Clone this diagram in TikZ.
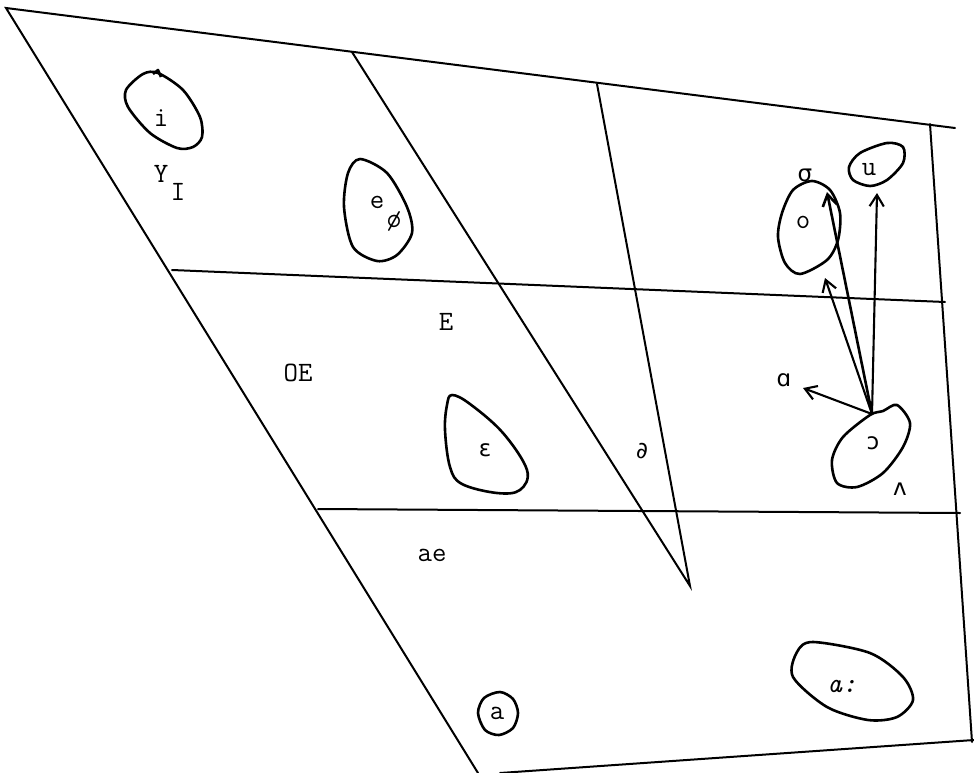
\documentclass[tikz,border=0pt]{standalone}
\usepackage{fontspec}
\usepackage{tikz}
\usetikzlibrary{arrows.meta, positioning}
\newfontfamily\ipafont{DejaVu Sans}

\begin{document}
\begin{tikzpicture}[
        x=1pt, y=-1pt,
        chartline/.style={line width=2pt, line cap=round},
        bubble/.style={line width=2.6pt, line join=round},
        vowel/.style={font=\fontsize{28}{28}\selectfont\ttfamily, inner sep=0pt},
        ipavowel/.style={font=\fontsize{23}{23}\selectfont\ipafont, inner sep=0pt},
        shiftarrow/.style={-{Straight Barb[length=4mm, width=5mm]}, line width=2.1pt}
    ]
        \useasboundingbox (0,0) rectangle (974,773);

        % outer frame
        \coordinate (topleft) at (6,8);
        \coordinate (topright) at (955,128);
        \coordinate (rightupper) at (930,124);
        \coordinate (rightlower) at (972,742);
        \coordinate (bottomleft) at (478,773);
        \coordinate (bottomstart) at (500,773);
        \coordinate (bottomright) at (974,740);
        \draw[chartline] (bottomleft) -- (topleft) -- (topright);
        \draw[chartline] (rightupper) -- (rightlower);
        \draw[chartline] (bottomstart) -- (bottomright);

        % rows and columns
        \coordinate (highrowleft) at (172,270);
        \coordinate (highrowright) at (945,302);
        \coordinate (lowrowleft) at (318,509);
        \coordinate (lowrowright) at (960,513);
        \coordinate (frontcol) at (352,52);
        \coordinate (centralcol) at (597,84);
        \coordinate (apex) at (690,586);
        \draw[chartline] (highrowleft) -- (highrowright);
        \draw[chartline] (lowrowleft) -- (lowrowright);
        \draw[chartline] (frontcol) -- (apex) -- (centralcol);

        % vowel labels
        \node[vowel] (ivowel) at (161,118) {i};
        \node[vowel] (yvowel) at (161,174) {Y};
        \node[vowel] (ismall) at (178,192) {I};
        \node[vowel] (evowel) at (377,202) {e};
        \node[vowel] (oslash) at (394,221) {ø};
        \node[vowel] (bigE) at (446,322) {E};
        \node[vowel] (oevowel) at (298,373) {OE};
        \node[ipavowel] (epsilon) at (485,450) {ε};
        \node[ipavowel] (schwa) at (642,451) {∂};
        \node[vowel] (aevowel) at (432,555) {ae};
        \node[vowel] (avowel) at (497,713) {a};
        \node[vowel] (longa) at (842,686) {\itshape a:};
        \node[vowel] (ovowel) at (803,222) {o};
        \node[ipavowel] (sigma) at (805,175) {σ};
        \node[vowel] (uvowel) at (869,170) {u};
        \node[ipavowel] (openo) at (873,443) {ɔ};
        \node[ipavowel] (wedge) at (900,489) {ʌ};
        \node[ipavowel] (backa) at (784,380) {ɑ};

        % bubbles
        \draw[bubble] plot[smooth cycle] coordinates {
            (143,74) (158,73) (183,90) (200,117) (202,137) (193,147)
            (177,148) (150,133) (128,107) (126,90)};
        \draw[bubble] (153,74) -- (158,70) -- (161,77);
        \draw[bubble] plot[smooth cycle] coordinates {
            (360,159) (387,173) (407,207) (412,233) (397,255) (377,261)
            (353,247) (344,207) (348,173)};
        \draw[bubble] plot[smooth cycle, tension=0.6] coordinates {
            (452,395) (470,404) (503,433) (527,470) (520,490) (497,493)
            (462,484) (450,467) (445,430) (447,405)};
        \draw[bubble] plot[smooth cycle] coordinates {
            (500,692) (513,699) (518,713) (513,728) (499,735) (485,730)
            (478,713) (484,698)};
        \draw[bubble] plot[smooth cycle] coordinates {
            (813,642) (870,653) (903,677) (913,700) (897,717) (868,720)
            (827,707) (793,677) (797,652)};
        \draw[bubble] plot[smooth cycle] coordinates {
            (812,181) (830,190) (840,213) (838,240) (827,260) (800,274)
            (785,263) (778,237) (782,213) (793,190)};
        \draw[bubble] plot[smooth cycle] coordinates {
            (860,153) (887,143) (903,147) (903,163) (887,180) (870,186)
            (853,180) (849,167)};
        \draw[bubble] plot[smooth cycle] coordinates {
            (897,405) (910,423) (903,447) (883,473) (857,487) (837,483)
            (832,460) (843,437) (870,415) (883,411)};

        % shifts out of the open o
        \coordinate (shiftorigin) at (872,414);
        \coordinate (tolow) at (803,388);
        \coordinate (tobelowo) at (825,278);
        \coordinate (toinsideo) at (827,192);
        \coordinate (tou) at (877,193);
        \draw[shiftarrow] (shiftorigin) -- (tolow);
        \draw[shiftarrow] (shiftorigin) -- (tobelowo);
        \draw[shiftarrow, line width=2.6pt] (shiftorigin) -- (toinsideo);
        \draw[shiftarrow] (shiftorigin) -- (tou);
    \end{tikzpicture}
\end{document}
